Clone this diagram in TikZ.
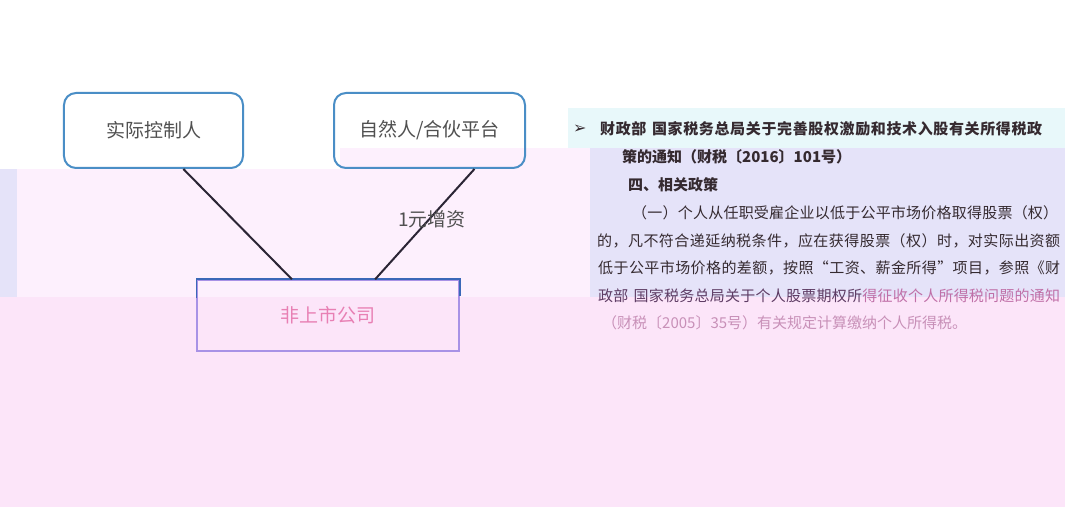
\documentclass[tikz,border=0pt]{standalone}
\usepackage{fontspec}
\setmainfont{Liberation Sans}
\newfontfamily\cjk{Noto Sans CJK SC}
\newfontfamily\symfont{DejaVu Sans}
\usetikzlibrary{calc}
\newcommand{\gapsp}{\hspace{5bp}}
\def\spreadchars#1{\spreadA#1\relax}
\def\spreadA#1{\ifx#1\relax\else#1\hfill\expandafter\spreadA\fi}
\newcommand{\stretchline}[2]{\hbox to #1{#2\unskip}}
\definecolor{boxblue}{HTML}{4A8EC6}
\definecolor{cyanband}{HTML}{E8F8FA}
\definecolor{palepink}{HTML}{FDF0FD}
\definecolor{lavender}{HTML}{E5E3F9}
\definecolor{lowpink}{HTML}{FCE5F9}
\definecolor{linedark}{HTML}{2B2535}
\definecolor{labelgray}{HTML}{505050}
\definecolor{textdark}{HTML}{352A30}
\definecolor{darkpurple}{HTML}{5E3C64}
\definecolor{fadedpink}{HTML}{C070A8}
\definecolor{lightpinktext}{HTML}{C890B8}
\definecolor{cotext}{HTML}{E880B4}
\definecolor{cotop}{HTML}{3A68B8}
\definecolor{coside}{HTML}{A892E6}
\tikzset{
  entity/.style={draw=boxblue, line width=2bp, rounded corners=12bp, font=\cjk\fontsize{19bp}{22bp}\selectfont, text=labelgray, inner sep=0pt},
  company/.style={draw=coside, line width=1.5bp, font=\cjk\fontsize{19bp}{22bp}\selectfont, text=cotext, inner sep=0pt},
  link/.style={draw=linedark, line width=2bp},
  bodytext/.style={anchor=west, inner sep=0pt, font=\cjk\fontsize{15bp}{17bp}\selectfont, text=textdark},
  headtext/.style={bodytext, font=\cjk\bfseries\fontsize{15bp}{17bp}\selectfont},
}
\begin{document}
\begin{tikzpicture}[x=1bp,y=-1bp]
\useasboundingbox (0,0) rectangle (1065,507);
\fill[white] (0,0) rectangle (1065,507);
% background regions
\fill[cyanband] (568,108) rectangle (1065,148);
\fill[palepink] (340,148) rectangle (590,297);
\fill[palepink] (17,169) rectangle (340,297);
\fill[lavender] (0,169) rectangle (17,297);
\fill[lavender] (590,148) rectangle (1065,297);
\fill[lowpink] (0,297) rectangle (1065,507);
% boxes
\node[entity, minimum width=179bp, minimum height=75bp] (b1) at (153.5,130.5) {实际控制人};
\node[entity, minimum width=191bp, minimum height=75bp] (b2) at (429.5,130.5) {自然人/合伙平台};
\node[company, minimum width=262bp, minimum height=71bp] (b3) at (328,315.5) {非上市公司};
\draw[cotop, line width=1.5bp] (b3.south west) ++(0,-54) -- (b3.north west) -- (b3.north east) -- ++(0,17);
% connectors
\draw[link] ($(b1.south west)!0.665!(b1.south east)$) -- ($(b3.north west)!0.363!(b3.north east)$);
\draw[link] ($(b2.south west)!0.733!(b2.south east)$) -- node[pos=0.46, font=\cjk\fontsize{19bp}{22bp}\selectfont, text=labelgray, inner sep=0pt, xshift=3bp] (lab) {1元增资} ($(b3.north west)!0.679!(b3.north east)$);
% text block
\node[bodytext, font=\symfont\fontsize{16bp}{18bp}\selectfont] (arrow) at (573,129) {➢};
\node[headtext] (t1) at (600,129) {\stretchline{442bp}{\spreadchars{财政部}\gapsp\spreadchars{国家税务总局关于完善股权激励和技术入股有关所得税政}}};
\node[headtext] (t2) at (622,157) {策的通知（财税〔2016〕101号）};
\node[headtext] (t3) at (628,185) {四、相关政策};
\node[bodytext] (t4) at (632,213) {\stretchline{426bp}{\spreadchars{（一）个人从任职受雇企业以低于公平市场价格取得股票（权）}}};
\node[bodytext] (t5) at (597,241) {\stretchline{463bp}{\spreadchars{的，凡不符合递延纳税条件，应在获得股票（权）时，对实际出资额}}};
\node[bodytext] (t6) at (598,268) {\stretchline{462bp}{\spreadchars{低于公平市场价格的差额，按照“工资、薪金所得”项目，参照《财}}};
\node[bodytext, text=darkpurple] (t7) at (598,296) {\stretchline{462bp}{\spreadchars{政部}\gapsp\spreadchars{国家税务总局关于个人股票期权所}\color{fadedpink}\spreadchars{得征收个人所得税问题的通知}}};
\node[bodytext, text=lightpinktext] (t8) at (602,323) {（财税〔2005〕35号）有关规定计算缴纳个人所得税。};
\end{tikzpicture}
\end{document}
